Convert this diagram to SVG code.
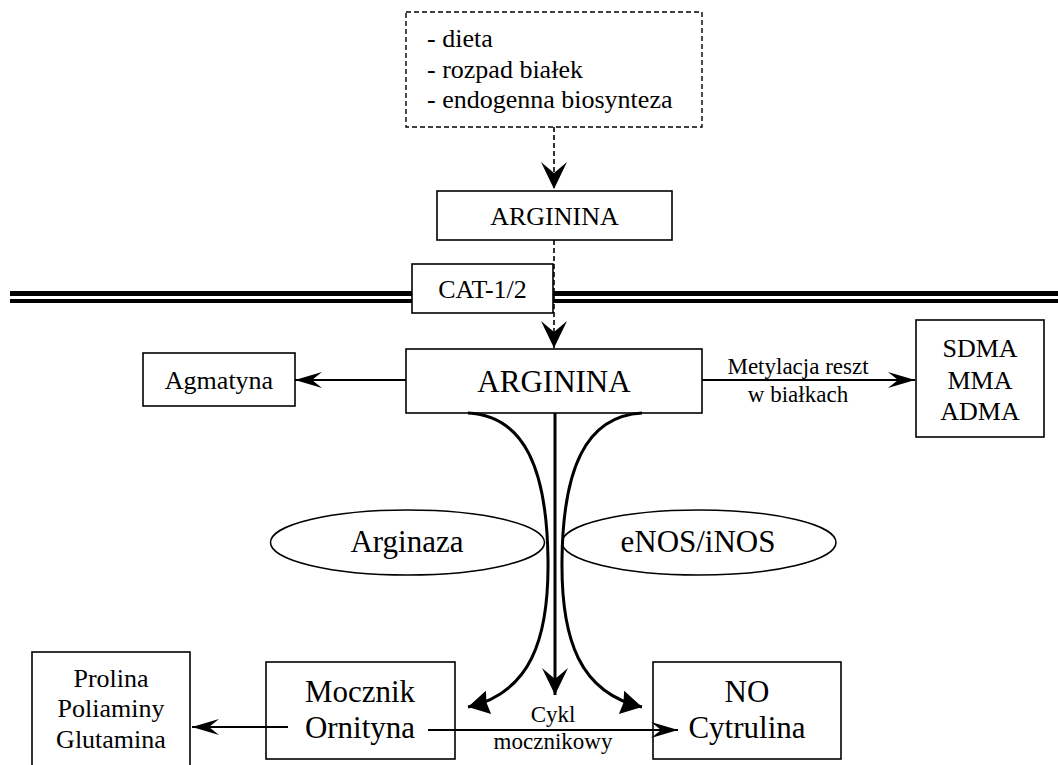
<svg xmlns="http://www.w3.org/2000/svg" width="1058" height="765" viewBox="0 0 1058 765">
<style>
text{font-family:"Liberation Serif","Times New Roman",serif;fill:#000}
.box{fill:none;stroke:#000;stroke-width:1.6}
.dash{fill:none;stroke:#000;stroke-width:1.4;stroke-dasharray:5 3}
.c{text-anchor:middle}
.f26{font-size:26px}
.f31{font-size:31px}
.f23{font-size:23px}
.ln{fill:none;stroke:#000;stroke-width:2}
.dl{fill:none;stroke:#000;stroke-width:1.6;stroke-dasharray:5 3}
.cv{fill:none;stroke:#000;stroke-width:3}
.mem{stroke:#000;fill:none}
</style>
<defs>
<marker id="thin" markerUnits="userSpaceOnUse" viewBox="-30 -12 32 24" markerWidth="32" markerHeight="24" refX="0" refY="0" orient="auto"><path d="M0,0 L-27,-8 L-17,0 L-27,8 Z" fill="#000"/></marker>
<marker id="big" markerUnits="userSpaceOnUse" viewBox="-30 -15 32 30" markerWidth="32" markerHeight="30" refX="0" refY="0" orient="auto"><path d="M0,0 L-27,-13 L-16,0 L-27,13 Z" fill="#000"/></marker>
<marker id="tri" markerUnits="userSpaceOnUse" viewBox="-24 -14 26 28" markerWidth="26" markerHeight="28" refX="0" refY="0" orient="auto"><path d="M0,0 L-21,-12 L-19,0 L-21,12 Z" fill="#000"/></marker>
</defs>

<g id="membrane">
<line class="mem" x1="10" y1="293.5" x2="412" y2="293.5" stroke-width="5"/>
<line class="mem" x1="10" y1="301" x2="412" y2="301" stroke-width="4"/>
<line class="mem" x1="553" y1="293.5" x2="1058" y2="293.5" stroke-width="5"/>
<line class="mem" x1="553" y1="301" x2="1058" y2="301" stroke-width="4"/>
</g>

<g id="connectors">
<line class="dl" x1="554" y1="127" x2="554" y2="189" marker-end="url(#big)"/>
<line class="dl" x1="554" y1="240" x2="554" y2="348" marker-end="url(#big)"/>
<line class="ln" x1="406" y1="380" x2="295" y2="380" marker-end="url(#thin)"/>
<line class="ln" x1="702" y1="380" x2="915" y2="380" marker-end="url(#thin)"/>
<path class="cv" d="M468,413 C525,416 547,470 548,560 C549,640 530,693 468,707" marker-end="url(#tri)"/>
<path class="cv" d="M642,413 C585,416 563,470 562,560 C561,640 580,693 642,707" marker-end="url(#tri)"/>
<line class="cv" x1="555" y1="413" x2="555" y2="695" marker-end="url(#big)"/>
<line class="ln" x1="288" y1="727" x2="192" y2="727" marker-end="url(#thin)"/>
<line class="ln" x1="428" y1="730" x2="678" y2="730" marker-end="url(#thin)"/>
<text class="c f23" x="798" y="374">Metylacja reszt</text>
<text class="c f23" x="798" y="402">w białkach</text>
<text class="c f23" x="553" y="722">Cykl</text>
<text class="c f23" x="553" y="749">mocznikowy</text>
</g>

<g id="sources">
<rect class="dash" x="406" y="12" width="296" height="115"/>
<text class="f26" x="427" y="47">- dieta</text>
<text class="f26" x="427" y="78">- rozpad białek</text>
<text class="f26" x="427" y="108">- endogenna biosynteza</text>
</g>

<g id="arginina-ext">
<rect class="box" x="437" y="191" width="235" height="49"/>
<text class="c f26" x="554.5" y="225">ARGININA</text>
</g>

<g id="cat">
<rect class="box" x="412" y="264" width="141" height="49"/>
<text class="c f26" x="482.5" y="298">CAT-1/2</text>
</g>

<g id="arginina">
<rect class="box" x="406" y="349" width="296" height="64"/>
<text class="c f31" x="554" y="392">ARGININA</text>
</g>

<g id="agmatyna">
<rect class="box" x="143" y="353" width="152" height="53"/>
<text class="c f26" x="219" y="389">Agmatyna</text>
</g>

<g id="sdma">
<rect class="box" x="916" y="320" width="128" height="117"/>
<text class="c f26" x="980" y="357">SDMA</text>
<text class="c f26" x="980" y="389">MMA</text>
<text class="c f26" x="980" y="420">ADMA</text>
</g>

<g id="arginaza">
<ellipse fill="none" stroke="#000" stroke-width="1.5" cx="407.5" cy="542.5" rx="137" ry="32.5"/>
<text class="c f31" x="407" y="552">Arginaza</text>
</g>

<g id="nos">
<ellipse fill="none" stroke="#000" stroke-width="1.5" cx="699" cy="542.5" rx="137" ry="32.5"/>
<text class="c f31" x="698" y="552">eNOS/iNOS</text>
</g>

<g id="prolina">
<rect class="box" x="32" y="652" width="158" height="116"/>
<text class="c f26" x="111" y="687">Prolina</text>
<text class="c f26" x="111" y="717">Poliaminy</text>
<text class="c f26" x="111" y="748">Glutamina</text>
</g>

<g id="mocznik">
<rect class="box" x="266" y="662" width="189" height="97"/>
<text class="c f31" x="360" y="702">Mocznik</text>
<text class="c f31" x="360" y="738">Ornityna</text>
</g>

<g id="no">
<rect class="box" x="653" y="662" width="188" height="97"/>
<text class="c f31" x="747" y="702">NO</text>
<text class="c f31" x="747" y="738">Cytrulina</text>
</g>
</svg>
